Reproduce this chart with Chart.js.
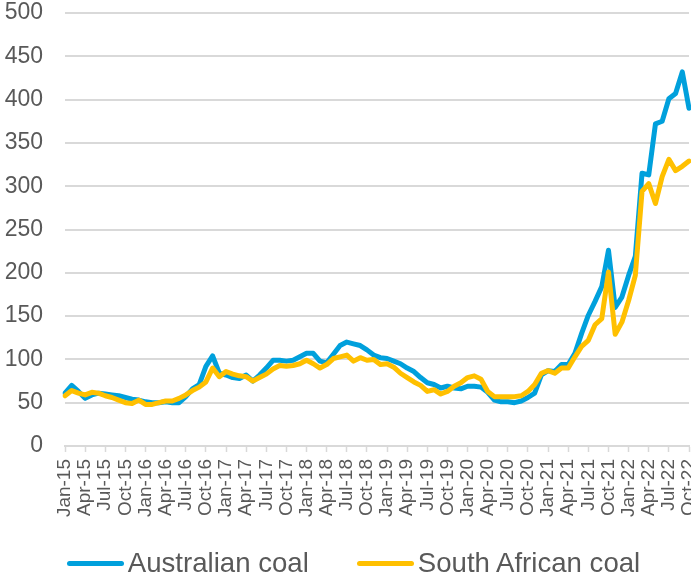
<!DOCTYPE html>
<html>
<head>
<meta charset="utf-8">
<title>Coal prices</title>
<script src="https://cdn.jsdelivr.net/npm/chart.js@4.4.0/dist/chart.umd.min.js"></script>
<style>
  html, body { margin: 0; padding: 0; background: #fff; overflow: hidden; }
  #wrap { position: relative; width: 707px; height: 577px; }
  #chart { position: absolute; left: 0; top: 0; }
  #legend {
    position: absolute; left: 0; top: 546px; width: 707px; height: 34px;
    display: flex; justify-content: center; align-items: center;
    font-family: 'Liberation Sans', Arial, sans-serif; font-size: 27.6px; color: #595959;
  }
  .item { display: flex; align-items: center; }
  .item + .item { margin-left: 48px; }
  .swatch { width: 57px; height: 5px; border-radius: 3px; margin-right: 4px; }
</style>
</head>
<body>
<div id="wrap">
  <canvas id="chart" width="703" height="577"></canvas>
  <div id="legend"></div>
</div>
<script>
// monthly labels Jan-15 .. Oct-22
const months = [
  'Jan-15','Feb-15','Mar-15','Apr-15','May-15','Jun-15','Jul-15','Aug-15','Sep-15','Oct-15','Nov-15','Dec-15',
  'Jan-16','Feb-16','Mar-16','Apr-16','May-16','Jun-16','Jul-16','Aug-16','Sep-16','Oct-16','Nov-16','Dec-16',
  'Jan-17','Feb-17','Mar-17','Apr-17','May-17','Jun-17','Jul-17','Aug-17','Sep-17','Oct-17','Nov-17','Dec-17',
  'Jan-18','Feb-18','Mar-18','Apr-18','May-18','Jun-18','Jul-18','Aug-18','Sep-18','Oct-18','Nov-18','Dec-18',
  'Jan-19','Feb-19','Mar-19','Apr-19','May-19','Jun-19','Jul-19','Aug-19','Sep-19','Oct-19','Nov-19','Dec-19',
  'Jan-20','Feb-20','Mar-20','Apr-20','May-20','Jun-20','Jul-20','Aug-20','Sep-20','Oct-20','Nov-20','Dec-20',
  'Jan-21','Feb-21','Mar-21','Apr-21','May-21','Jun-21','Jul-21','Aug-21','Sep-21','Oct-21','Nov-21','Dec-21',
  'Jan-22','Feb-22','Mar-22','Apr-22','May-22','Jun-22','Jul-22','Aug-22','Sep-22','Oct-22'
]

const australian = [
  61, 70, 63, 55, 59, 61, 60, 59, 58, 56, 54, 53,
  51, 50, 50, 51, 50, 50, 57, 66, 71, 92, 104, 84,
  82, 79, 78, 82, 75, 82, 90, 99, 99, 98, 99, 103,
  107, 107, 98, 96, 106, 116, 120, 118, 116, 111, 105, 102,
  101, 98, 95, 90, 86, 79, 73, 71, 67, 69, 67, 66,
  69, 69, 68, 62, 53, 51, 51, 50, 52, 56, 61, 82,
  87, 86, 94, 94, 107, 130, 151, 167, 184, 226, 160, 172,
  197, 219, 315, 313, 372, 375, 401, 407, 432, 390
]

const southAfrican = [
  58, 64, 61, 59, 62, 61, 58, 56, 53, 50, 49, 53,
  48, 48, 50, 52, 52, 55, 59, 64, 68, 74, 90, 80,
  86, 83, 81, 80, 75, 79, 83, 89, 93, 92, 93, 95,
  99, 95, 90, 94, 101, 103, 105, 98, 102, 99, 100, 94,
  95, 91, 84, 79, 74, 70, 63, 65, 60, 63, 69, 73,
  79, 81, 77, 63, 57, 57, 57, 57, 58, 63, 71, 84,
  87, 84, 90, 90, 103, 115, 122, 140, 147, 201, 129, 143,
  168, 197, 294, 303, 280, 311, 331, 318, 323, 329
]

const seriesNames = ['Australian coal', 'South African coal']
const seriesColors = ['#00a0dc', '#ffc000']

const textColor = '#595959'
const gridColor = '#d9d9d9'
const fontFamily = "'Liberation Sans', Arial, sans-serif"

function makeDataset(i, values) {
    return {
        label: seriesNames[i],
        data: values,
        borderColor: seriesColors[i],
        backgroundColor: seriesColors[i],
        borderWidth: 5,
        pointRadius: 0,
        pointHoverRadius: 0,
        tension: 0,
        borderJoinStyle: 'round',
        borderCapStyle: 'round',
        // yellow line sits on top of the blue one
        order: i === 1 ? 0 : 1
    }
}

const ctx = document.getElementById('chart').getContext('2d')
const myChart = new Chart(ctx, {
    type: 'line',
    data: {
        labels: months,
        datasets: [makeDataset(0, australian), makeDataset(1, southAfrican)]
    },
    options: {
        responsive: false,
        animation: false,
        layout: { padding: { left: 5, top: 13, right: 14, bottom: 58 } },
        plugins: {
            legend: { display: false },
            tooltip: { enabled: false }
        },
        scales: {
            x: {
                offset: false,
                grid: {
                    drawOnChartArea: false,
                    drawTicks: true,
                    tickLength: 6,
                    tickWidth: 1.5,
                    // a tick mark every quarter only
                    tickColor: (c) => c.index % 3 === 0 ? gridColor : 'rgba(0,0,0,0)'
                },
                border: { display: true, color: gridColor, width: 2 },
                ticks: {
                    autoSkip: false,
                    maxRotation: 90,
                    minRotation: 90,
                    padding: 7,
                    color: textColor,
                    font: { family: fontFamily, size: 19 },
                    callback: function (value, index) {
                        return index % 3 === 0 ? this.getLabelForValue(value) : ''
                    }
                },
                // fixed axis height, no overhang padding from the rotated labels
                afterFit: (scale) => {
                    scale.height = 73
                    scale.paddingLeft = 0
                    scale.paddingRight = 0
                }
            },
            y: {
                min: 0,
                max: 500,
                grid: { color: gridColor, lineWidth: 2, drawTicks: false },
                border: { display: false },
                ticks: {
                    stepSize: 50,
                    padding: 22,
                    color: textColor,
                    font: { family: fontFamily, size: 23 }
                },
                afterFit: (scale) => {
                    scale.width = 60
                    scale.paddingTop = 0
                    scale.paddingBottom = 0
                }
            }
        }
    }
})

// legend drawn as html under the canvas
const legend = document.getElementById('legend')
seriesNames.forEach((name, i) => {
    const item = document.createElement('div')
    item.className = 'item'
    item.innerHTML = `<span class="swatch" style="background:${seriesColors[i]}"></span><span>${name}</span>`
    legend.appendChild(item)
})
</script>
</body>
</html>
